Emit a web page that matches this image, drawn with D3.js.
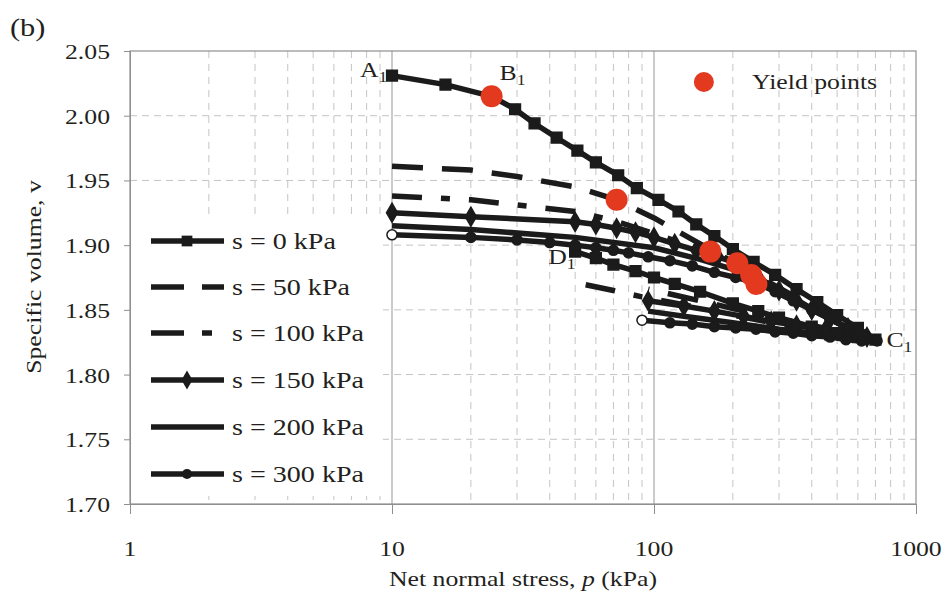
<!DOCTYPE html>
<html><head><meta charset="utf-8">
<script src="https://cdn.jsdelivr.net/npm/d3@7"></script>
<style>
body{margin:0;background:#fff}
text{font-family:"Liberation Serif","Times New Roman",serif;fill:#231f20}
</style>
</head><body>
<svg id="c" width="946" height="609"></svg>
<script>
// ---------- data ----------
const xTicks = [1, 10, 100, 1000];
const yTicks = [1.70, 1.75, 1.80, 1.85, 1.90, 1.95, 2.00, 2.05];
const seriesNames = ["s = 0 kPa", "s = 50 kPa", "s = 100 kPa", "s = 150 kPa", "s = 200 kPa", "s = 300 kPa"];

// s = 0 kPa : loading A1 -> C1, unloading C1 -> D1  [p, v]
const s0 = [[10,2.031],[16,2.024],[24,2.015],[29.5,2.005],[35,1.994],[42.5,1.983],[51,1.973],[60,1.964],[73,1.954],[86,1.944],[104,1.935],[124,1.926],[145,1.916],[170,1.907],[200,1.897],[240,1.887],[290,1.877],[350,1.866],[420,1.856],[500,1.846],[600,1.836],[700,1.827],
  [600,1.829],[500,1.832],[400,1.837],[300,1.844],[250,1.849],[200,1.855],[150,1.864],[120,1.870],[100,1.875],[85,1.880],[70,1.885],[60,1.890],[50,1.895]];
// s = 50 kPa
const s50 = [[10,1.961],[20,1.958],[30,1.953],[50,1.945],[72,1.935],[100,1.921],[150,1.901],[200,1.887],[300,1.867],[400,1.853],[500,1.843],[600,1.835],[690,1.828],
  [500,1.834],[300,1.843],[200,1.851],[150,1.857],[95,1.866]];
// s = 100 kPa
const s100 = [[10,1.938],[20,1.935],[30,1.931],[50,1.926],[70,1.919],[100,1.909],[130,1.901],[164,1.894],[200,1.884],[300,1.864],[400,1.850],[500,1.840],[600,1.833],[680,1.828],
  [500,1.832],[300,1.839],[200,1.846],[130,1.854],[90,1.860],[70,1.865],[53,1.870]];
// s = 150 kPa
const s150 = [[10,1.925],[20,1.922],[50,1.918],[60,1.916],[72,1.913],[85,1.910],[100,1.906],[120,1.901],[145,1.896],[175,1.891],[208,1.886],[250,1.875],[300,1.865],[350,1.857],[400,1.850],[470,1.843],[550,1.836],[650,1.829],
  [550,1.831],[450,1.834],[350,1.838],[280,1.841],[220,1.845],[170,1.849],[130,1.853],[95,1.857]];
// s = 200 kPa
const s200 = [[10,1.915],[20,1.912],[50,1.906],[100,1.898],[150,1.889],[235,1.877],[300,1.866],[400,1.851],[500,1.840],[660,1.828],
  [500,1.830],[300,1.835],[200,1.840],[130,1.845],[95,1.849]];
// s = 300 kPa
const s300 = [[10,1.908],[20,1.906],[30,1.904],[40,1.902],[50,1.900],[60,1.898],[70,1.896],[80,1.894],[95,1.891],[115,1.888],[140,1.884],[170,1.879],[205,1.875],[245,1.871],[290,1.864],[340,1.857],[400,1.850],[470,1.843],[550,1.836],[630,1.830],[710,1.826],
  [620,1.826],[540,1.827],[470,1.829],[400,1.830],[340,1.832],[290,1.833],[245,1.835],[205,1.836],[170,1.837],[140,1.839],[115,1.840],[90,1.842]];
// yield points
const yieldPts = [[24,2.015],[72,1.935],[164,1.895],[208,1.886],[235,1.877],[246,1.870]];
// point labels
const ptLabels = [["A","1",10,2.031],["B","1",24,2.015],["C","1",700,1.827],["D","1",50,1.895]];

// ---------- layout ----------
const SX = 1.17;
const svg = d3.select("#c");
const x = d3.scaleLog().domain([1, 1000]).range([130, 916]);
const y = d3.scaleLinear().domain([1.70, 2.05]).range([504, 51]);
const ink = "#1b1b1b", red = "#e2391f", gridC = "#c4c4c4", axC = "#8f8f8f";

function txt(px, py, str, opt = {}) {
  const { anchor = "start", size = 22, rot = 0 } = opt;
  const g = svg.append("g").attr("transform",
    rot ? `translate(${px},${py}) rotate(${rot}) scale(${SX},1)` : `translate(${px},${py}) scale(${SX},1)`);
  return g.append("text").attr("text-anchor", anchor).attr("font-size", size).text(str);
}

// grid: minor verticals
const minor = [];
[1, 10, 100].forEach(d => { for (let k = 2; k <= 9; k++) minor.push(d * k); });
svg.append("g").selectAll("line").data(minor).join("line")
  .attr("x1", d => x(d)).attr("x2", d => x(d)).attr("y1", y(2.05)).attr("y2", y(1.70))
  .attr("stroke", gridC).attr("stroke-width", 1).attr("stroke-dasharray", "7,6");
svg.append("g").selectAll("line").data(yTicks.slice(1, -1)).join("line")
  .attr("x1", x(1)).attr("x2", x(1000)).attr("y1", d => y(d)).attr("y2", d => y(d))
  .attr("stroke", gridC).attr("stroke-width", 1).attr("stroke-dasharray", "7,5");
svg.append("g").selectAll("line").data([10, 100]).join("line")
  .attr("x1", d => x(d)).attr("x2", d => x(d)).attr("y1", y(2.05)).attr("y2", y(1.70))
  .attr("stroke", "#a8a8a8").attr("stroke-width", 1.2);
// frame
svg.append("rect").attr("x", x(1)).attr("y", y(2.05)).attr("width", x(1000) - x(1)).attr("height", y(1.70) - y(2.05))
  .attr("fill", "none").attr("stroke", axC).attr("stroke-width", 1.2);

// axes ticks
const xAxis = d3.axisBottom(x).tickValues(xTicks).tickSize(10).tickFormat("");
const gx = svg.append("g").attr("transform", `translate(0,${y(1.70)})`).call(xAxis);
gx.select(".domain").attr("stroke", axC);
gx.selectAll(".tick line").attr("stroke", axC);
const yAxis = d3.axisLeft(y).tickValues(yTicks).tickSize(6).tickFormat("");
const gy = svg.append("g").attr("transform", `translate(${x(1)},0)`).call(yAxis);
gy.select(".domain").attr("stroke", axC);
gy.selectAll(".tick line").attr("stroke", axC);

xTicks.forEach(t => txt(x(t), 556, d3.format("d")(t), { anchor: "middle" }));
yTicks.forEach(t => txt(110, y(t) + 8, d3.format(".2f")(t), { anchor: "end" }));

// titles
const xt = txt(523, 586, "Net normal stress, ", { anchor: "middle" });
xt.append("tspan").attr("font-style", "italic").text("p");
xt.append("tspan").text(" (kPa)");
txt(41, 277, "Specific volume, v", { anchor: "middle", rot: -90 });
txt(10, 36, "(b)", { size: 26 });

// legend box (hides grid)
svg.append("rect").attr("x", x(1) + 1).attr("y", 220).attr("width", 252).attr("height", 276).attr("fill", "#fff");

// ---------- series ----------
const line = d3.line().x(d => x(d[0])).y(d => y(d[1]));
const styles = [
  { data: s0, dash: null, sym: "square" },
  { data: s50, dash: "31,19", sym: null },
  { data: s100, dash: "30,19,9,19", sym: null },
  { data: s150, dash: null, sym: "diamond" },
  { data: s200, dash: null, sym: null },
  { data: s300, dash: null, sym: "circle" }
];
const symGen = {
  square: d3.symbol().type(d3.symbolSquare).size(115),
  diamond: d3.symbol().type(d3.symbolDiamond).size(105),
  circle: d3.symbol().type(d3.symbolCircle).size(80)
};
const plot = svg.append("g");
styles.forEach(s => {
  plot.append("path").datum(s.data).attr("d", line).attr("fill", "none")
    .attr("stroke", ink).attr("stroke-width", 5.5).attr("stroke-linejoin", "round")
    .attr("stroke-dasharray", s.dash);
});
styles.forEach(s => {
  if (!s.sym) return;
  plot.append("g").selectAll("path").data(s.data).join("path")
    .attr("transform", d => `translate(${x(d[0])},${y(d[1])})`)
    .attr("d", symGen[s.sym]())
    .attr("fill", (d, i) => (s.sym === "circle" && (i === 0 || i === s.data.length - 1)) ? "#fff" : ink)
    .attr("stroke", ink).attr("stroke-width", 1.5);
});
plot.append("g").selectAll("circle").data(yieldPts).join("circle")
  .attr("cx", d => x(d[0])).attr("cy", d => y(d[1])).attr("r", 11).attr("fill", red);

// point labels
const offs = { A: [-32, 1], B: [8, -16], C: [11, 7], D: [-27, 12] };
ptLabels.forEach(([L, sub, p, v]) => {
  const o = offs[L];
  const t = txt(x(p) + o[0], y(v) + o[1], L, { size: 22 });
  t.append("tspan").attr("font-size", 15).attr("dy", 5).text(sub);
});

// legend
const rows = [241, 287, 333, 380, 427, 474];
styles.forEach((s, i) => {
  const g = svg.append("g");
  g.append("line").attr("x1", 151).attr("x2", 224).attr("y1", rows[i]).attr("y2", rows[i])
    .attr("stroke", ink).attr("stroke-width", 5.5).attr("stroke-dasharray", s.dash === "31,19" ? "33,18" : (s.dash ? "33,18,10,30" : null));
  if (s.sym) g.append("path").attr("transform", `translate(187,${rows[i]})`).attr("d", symGen[s.sym]()).attr("fill", ink);
  txt(232, rows[i] + 8, seriesNames[i], { size: 24 });
});
svg.append("circle").attr("cx", x(155)).attr("cy", 82).attr("r", 10).attr("fill", red);
txt(752, 89, "Yield points", { size: 22 });
</script>
</body></html>
